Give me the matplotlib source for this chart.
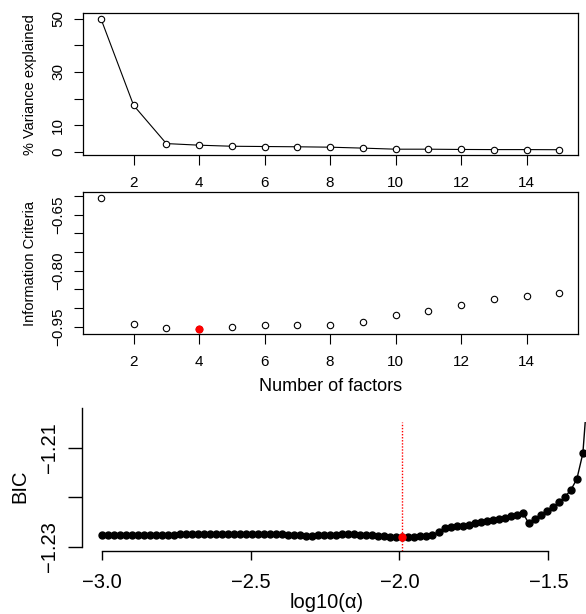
import matplotlib.pyplot as plt
import numpy as np

# R-like look: Helvetica metrics
plt.rcParams['font.family'] = ['Liberation Sans', 'DejaVu Sans']

# --- data: scree plot ---
n_factors = list(range(1, 16))
var_explained = [50.0, 17.5, 3.2, 2.6, 2.2, 2.1, 2.0, 1.85, 1.5, 1.1, 1.1, 1.0, 0.95, 0.95, 0.9]

# --- data: information criteria ---
info_criteria = [-0.604, -0.942, -0.955, -0.957, -0.950, -0.947, -0.947, -0.947,
                 -0.937, -0.920, -0.908, -0.891, -0.877, -0.867, -0.861]
best_factor = 4

# --- data: BIC over penalty grid ---
log_alpha = np.linspace(-3.0, -1.364, 82)
bic = [-1.22770, -1.22768, -1.22766, -1.22766, -1.22764, -1.22764, -1.22762, -1.22762,
       -1.22760, -1.22760, -1.22758, -1.22758, -1.22756, -1.22754, -1.22754, -1.22752,
       -1.22750, -1.22748, -1.22746, -1.22744, -1.22744, -1.22742, -1.22742, -1.22742,
       -1.22744, -1.22744, -1.22746, -1.22748, -1.22750, -1.22752, -1.22754, -1.22758,
       -1.22764, -1.22772, -1.22776, -1.22776, -1.22772, -1.22766, -1.22760, -1.22756,
       -1.22754, -1.22752, -1.22754, -1.22758, -1.22764, -1.22772, -1.22780, -1.22788,
       -1.22798, -1.22804, -1.22810, -1.22804, -1.22800, -1.22790, -1.22780, -1.22764,
       -1.22704, -1.22623, -1.22607, -1.22589, -1.22573, -1.22554, -1.22532, -1.22510,
       -1.22488, -1.22466, -1.22442, -1.22413, -1.22385, -1.22353, -1.22314, -1.22528,
       -1.22448, -1.22361, -1.22280, -1.22200, -1.22109, -1.21998, -1.21857, -1.21635,
       -1.21117, -1.19500]
best_idx = 50

x_ticks = [2, 4, 6, 8, 10, 12, 14]
var_ticks = [0, 10, 20, 30, 40, 50]
var_labels = ['0', '10', '', '30', '', '50']
ic_ticks = [-0.60, -0.65, -0.70, -0.75, -0.80, -0.85, -0.90, -0.95]
ic_labels = ['', '\u22120.65', '', '', '\u22120.80', '', '', '\u22120.95']
bic_ticks = [-1.23, -1.22, -1.21]
bic_labels = ['\u22121.23', '', '\u22121.21']
la_ticks = [-3.0, -2.5, -2.0, -1.5]


def r_lim(vals):
    # R's default 4% range extension
    lo, hi = min(vals), max(vals)
    pad = (hi - lo) * 0.04
    return lo - pad, hi + pad


def rotate_ylabels(ax):
    for lab in ax.get_yticklabels():
        lab.set_rotation(90)
        lab.set_va('center')
        lab.set_ha('right')


fig = plt.figure(figsize=(5.86, 6.14), dpi=100)

# ---------------- panel 1 ----------------
ax1 = fig.add_axes([0.1408, 0.7476, 0.8451, 0.2308])
ax1.plot(n_factors, var_explained, color='black', lw=0.8, marker='o', ms=4.6,
         mfc='white', mec='black', mew=0.8)
ax1.set_xlim(r_lim(n_factors))
ax1.set_ylim(r_lim(var_explained))
ax1.set_xticks(x_ticks)
ax1.set_yticks(var_ticks)
ax1.set_yticklabels(var_labels)
ax1.tick_params(axis='x', length=7.2, width=0.8, pad=8, labelsize=11)
ax1.tick_params(axis='y', length=6.5, width=0.8, pad=6, labelsize=11)
rotate_ylabels(ax1)
ax1.set_ylabel('% Variance explained', fontsize=10.5, labelpad=10)
for s in ax1.spines.values():
    s.set_linewidth(0.9)

# ---------------- panel 2 ----------------
ax2 = fig.add_axes([0.1408, 0.4554, 0.8451, 0.2314])
ax2.plot(n_factors, info_criteria, ls='none', marker='o', ms=4.6,
         mfc='white', mec='black', mew=0.8)
bi = n_factors.index(best_factor)
ax2.plot(n_factors[bi], info_criteria[bi], ls='none', marker='o', ms=4.8,
         mfc='red', mec='red')
ax2.set_xlim(r_lim(n_factors))
ax2.set_ylim(r_lim(info_criteria))
ax2.set_xticks(x_ticks)
ax2.set_yticks(ic_ticks)
ax2.set_yticklabels(ic_labels)
ax2.tick_params(axis='x', length=7.2, width=0.8, pad=8, labelsize=11)
ax2.tick_params(axis='y', length=6.5, width=0.8, pad=6, labelsize=11)
rotate_ylabels(ax2)
ax2.set_ylabel('Information Criteria', fontsize=10.5, labelpad=10)
ax2.set_xlabel('Number of factors', fontsize=13, labelpad=6)
for s in ax2.spines.values():
    s.set_linewidth(0.9)

# ---------------- panel 3 ----------------
ax3 = fig.add_axes([0.1394, 0.1031, 0.9323, 0.2091])
ax3.plot(log_alpha, bic, color='black', lw=1.0, marker='o', ms=5.0,
         mfc='black', mec='black')
ax3.plot(log_alpha[best_idx], bic[best_idx], ls='none', marker='o', ms=5.0,
         mfc='red', mec='red')
ax3.axvline(log_alpha[best_idx], color='red', ls=(0, (1, 1.2)), lw=1.0)
ax3.set_xlim(-3.0671, -1.2326)
ax3.set_ylim(-1.23081, -1.20492)
ax3.spines['top'].set_visible(False)
ax3.spines['right'].set_visible(False)
ax3.spines['bottom'].set_bounds(-3.0, -1.5)
ax3.spines['left'].set_bounds(-1.23, -1.2021)
ax3.spines['left'].set_clip_on(False)
for s in ax3.spines.values():
    s.set_linewidth(1.0)
ax3.set_xticks(la_ticks)
ax3.set_xticklabels(['\u22123.0', '\u22122.5', '\u22122.0', '\u22121.5'])
ax3.set_yticks(bic_ticks)
ax3.set_yticklabels(bic_labels)
ax3.tick_params(axis='x', length=6.7, width=1.0, pad=9, labelsize=14.5)
ax3.tick_params(axis='y', length=10.3, width=1.0, pad=6, labelsize=14.5)
rotate_ylabels(ax3)
ax3.set_ylabel('BIC', fontsize=14.5, labelpad=8)
ax3.set_xlabel('log10(\u03b1)', fontsize=14.5, labelpad=2)
ax3.xaxis.set_label_coords(0.449, -0.33)

fig.savefig('out.png', dpi=100)
